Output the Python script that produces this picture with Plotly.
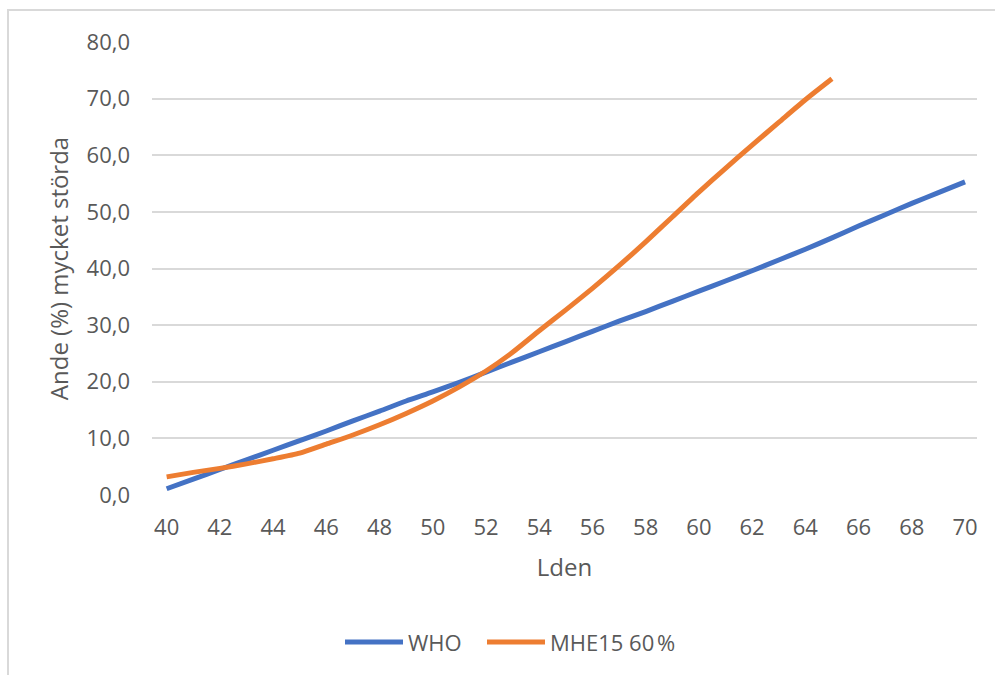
import plotly.graph_objects as go

# Lden levels (dB) and share of highly annoyed (%)
lden = list(range(40, 71))
who = [1.1, 2.8, 4.5, 6.2, 7.9, 9.6, 11.3, 13.1, 14.8, 16.6,
       18.2, 19.9, 21.7, 23.5, 25.3, 27.1, 28.9, 30.7, 32.4, 34.2,
       36.0, 37.8, 39.6, 41.5, 43.4, 45.4, 47.5, 49.5, 51.5, 53.4, 55.3]
lden_mhe = list(range(40, 66))
mhe15 = [3.2, 4.0, 4.7, 5.5, 6.4, 7.4, 9.0, 10.6, 12.4, 14.4,
         16.6, 19.1, 21.9, 25.2, 29.0, 32.7, 36.5, 40.5, 44.7, 49.1,
         53.5, 57.7, 61.8, 65.8, 69.8, 73.5]

series_names = ["WHO", "MHE15 60\u202f%"]
series_colors = ["#4472C4", "#ED7D31"]

x_ticks = list(range(40, 71, 2))
y_ticks = [0, 10, 20, 30, 40, 50, 60, 70, 80]

TEXT = "#595959"
GRID = "#D9D9D9"
FONT = "Open Sans"
TICK_SIZE = 22
TITLE_SIZE = 24

# plot area in pixels
W, H = 995, 675
L, R, T, B = 152, 18, 42, 180
PW, PH = W - L - R, H - T - B


def px(x):
    return (x - L) / PW


def py(y):
    return (H - B - y) / PH


fig = go.Figure()
fig.add_trace(go.Scatter(x=lden, y=who, mode="lines", name=series_names[0],
                         line=dict(color=series_colors[0], width=5,
                                   shape="spline", smoothing=0.6),
                         showlegend=False))
fig.add_trace(go.Scatter(x=lden_mhe, y=mhe15, mode="lines", name=series_names[1],
                         line=dict(color=series_colors[1], width=5,
                                   shape="spline", smoothing=0.6),
                         showlegend=False))

shapes = [
    # chart frame
    dict(type="rect", xref="paper", yref="paper",
         x0=px(8), x1=px(1005), y0=py(10), y1=py(690),
         line=dict(color=GRID, width=2), layer="below"),
]
annotations = []

# legend row
legend_y = 642
legend_items = [(345, 403, 406), (487, 545, 548)]
for (lx0, lx1, tx), name, color in zip(legend_items, series_names, series_colors):
    shapes.append(dict(type="line", xref="paper", yref="paper",
                       x0=px(lx0), x1=px(lx1), y0=py(legend_y), y1=py(legend_y),
                       line=dict(color=color, width=5)))
    annotations.append(dict(text=name, xref="paper", yref="paper",
                            x=px(tx), y=py(legend_y), xanchor="left", yanchor="middle",
                            showarrow=False,
                            font=dict(family=FONT, size=TICK_SIZE, color=TEXT)))

fig.update_layout(
    width=W, height=H,
    margin=dict(l=L, r=R, t=T, b=B),
    paper_bgcolor="white", plot_bgcolor="white",
    separators=", ",
    font=dict(family=FONT, size=TICK_SIZE, color=TEXT),
    showlegend=False,
    shapes=shapes,
    annotations=annotations,
    xaxis=dict(
        range=[39.45, 70.45],
        tickvals=x_ticks, ticktext=[str(v) for v in x_ticks],
        showgrid=False, zeroline=False, showline=False,
        ticks="", ticklabelstandoff=17,
        tickfont=dict(family=FONT, size=TICK_SIZE, color=TEXT),
        title=dict(text="Lden", font=dict(family=FONT, size=TITLE_SIZE, color=TEXT),
                   standoff=19),
    ),
    yaxis=dict(
        range=[0, 80],
        tickvals=y_ticks, tickformat=".1f",
        showgrid=True, gridcolor=GRID, gridwidth=2,
        zeroline=False, showline=False,
        ticks="", ticklabelstandoff=21,
        tickfont=dict(family=FONT, size=TICK_SIZE, color=TEXT),
        title=dict(text="Ande (%) mycket störda",
                   font=dict(family=FONT, size=TITLE_SIZE, color=TEXT), standoff=11),
    ),
)

fig.write_html("out.html")
